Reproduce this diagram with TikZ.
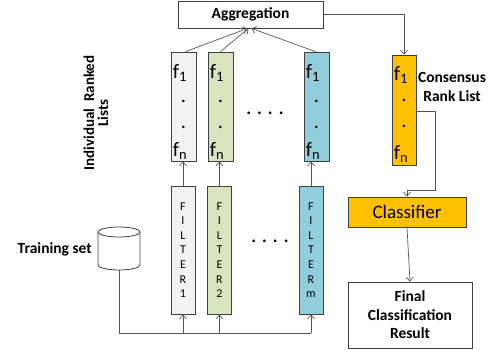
\documentclass[tikz,border=0pt]{standalone}
\usepackage{fontspec}
\setmainfont{Carlito}
\usetikzlibrary{arrows.meta}
\definecolor{boxline}{rgb}{0.25,0.25,0.25}
\definecolor{wireline}{rgb}{0.33,0.33,0.33}
\definecolor{listgray}{rgb}{0.949,0.949,0.949}
\definecolor{listgreen}{rgb}{0.843,0.894,0.741}
\definecolor{listblue}{rgb}{0.573,0.804,0.863}
\definecolor{rankorange}{rgb}{1.000,0.753,0.000}
\tikzset{
  box/.style={draw=boxline,line width=0.8pt,inner sep=0pt},
  listbox/.style={box,minimum width=25pt,minimum height=109pt},
  filterbox/.style={box,minimum width=24pt,minimum height=128pt,
    align=center,font=\fontsize{12}{14.6}\selectfont},
  wire/.style={draw=wireline,line width=0.7pt},
  arrow/.style={wire,-{Straight Barb[length=4pt,width=7pt]}},
  label/.style={font=\bfseries\fontsize{15.5}{18.5}\selectfont,align=center,inner sep=0pt},
  feat/.style={font=\fontsize{20.5}{20.5}\selectfont,inner sep=0pt},
  dotrow/.style={font=\bfseries\fontsize{18}{18}\selectfont,inner sep=0pt}
}
\newcommand{\fsub}[1]{f\raisebox{-0.3ex}{\fontsize{14.5}{14.5}\selectfont #1}}
\begin{document}
\begin{tikzpicture}[x=1pt,y=-1pt]
  \useasboundingbox (0,0) rectangle (491,349);
  % Aggregation box
  \node [box,minimum width=145pt,minimum height=27pt,font=\bfseries\fontsize{15.5}{18}\selectfont] (agg) at (250.5,14.5) {Aggregation};
  % Individual ranked lists
  \node [listbox,fill=listgray] (list1) at (183.5,106.5) {};
  \node [listbox,fill=listgreen] (list2) at (220.5,106.5) {};
  \node [listbox,fill=listblue] (list3) at (316.5,106.5) {};
  \foreach \l in {list1,list2,list3} {
    \node [feat,anchor=base west] at ([shift={(2,27)}]\l.north west) {\fsub{1}};
    \node [feat] at ([shift={(0,50)}]\l.north) {.};
    \node [feat] at ([shift={(0,76)}]\l.north) {.};
    \node [feat,anchor=base west] at ([shift={(2,-5)}]\l.south west) {\fsub{n}};
  }
  \node [dotrow] (dotstop) at (265,113) {.\,\,.\,\,.\,\,.};
  % Side label
  \node [label,rotate=90,font=\bfseries\fontsize{15}{14}\selectfont] (lists) at (96,113) {Individual~ Ranked\\Lists};
  % Filters
  \node [filterbox,fill=listgray] (filter1) at (183,250) {F\\I\\L\\T\\E\\R\\1};
  \node [filterbox,fill=listgreen] (filter2) at (219.5,250) {F\\I\\L\\T\\E\\R\\2};
  \node [filterbox,fill=listblue] (filterm) at (311,250) {F\\I\\L\\T\\E\\R\\m};
  \node [dotrow] (dotsbot) at (270,241) {.\,\,.\,\,.\,\,.};
  % Training set (cylinder)
  \draw [draw=boxline,line width=0.8pt,fill=white] (98,232) -- (98,265)
    arc[start angle=180,end angle=360,x radius=21pt,y radius=5pt] -- (140,232);
  \draw [draw=boxline,line width=0.8pt,fill=white] (119,232) ellipse [x radius=21pt,y radius=5pt];
  \coordinate (train) at (119,270);
  \node [label,anchor=east] (trainlabel) at (92,249) {Training set};
  % Consensus rank list
  \node [listbox,minimum width=24pt,minimum height=110pt,fill=rankorange] (cons) at (404,110) {};
  \node [feat,anchor=base west] at ([shift={(2,26)}]cons.north west) {\fsub{1}};
  \node [feat] at ([shift={(0,46)}]cons.north) {.};
  \node [feat] at ([shift={(0,72)}]cons.north) {.};
  \node [feat,anchor=base west] at ([shift={(2,-6)}]cons.south west) {\fsub{n}};
  \node [label] (conslabel) at (452,87) {Consensus\\Rank List};
  % Classifier and result
  \node [box,minimum width=118pt,minimum height=30pt,fill=rankorange,font=\fontsize{19}{19}\selectfont] (clf) at (407,212) {Classifier};
  \node [box,minimum width=124pt,minimum height=66pt,label] (final) at (410,315) {Final\\Classification\\Result};
  % Training set to filters
  \coordinate (bus) at (119,333);
  \draw [wire] (train) -- (bus) -- (filterm.south |- bus);
  \foreach \f in {filter1,filter2,filterm}
    \draw [arrow] (\f.south |- bus) -- (\f.south);
  % Filters to lists
  \draw [arrow] (filter1.north) -- (filter1.north |- list1.south);
  \draw [arrow] (filter2.north) -- (filter2.north |- list2.south);
  \draw [arrow] (filterm.north) -- (filterm.north |- list3.south);
  % Lists to aggregation
  \draw [arrow] ([xshift=2pt]list1.north) -- ([xshift=-3pt]agg.south);
  \draw [arrow] (list2.north) -- ([xshift=-2pt]agg.south);
  \draw [arrow] ([xshift=-1pt]list3.north) -- ([xshift=1pt]agg.south);
  % Aggregation to consensus, consensus to classifier
  \draw [arrow] (agg.east) -| (cons.north);
  \coordinate (turn) at (435,190);
  \draw [arrow] (cons.east |- 0,111) -| (turn) -| (clf.north);
  \draw [arrow] (clf.south) -- (final.north);
\end{tikzpicture}
\end{document}
